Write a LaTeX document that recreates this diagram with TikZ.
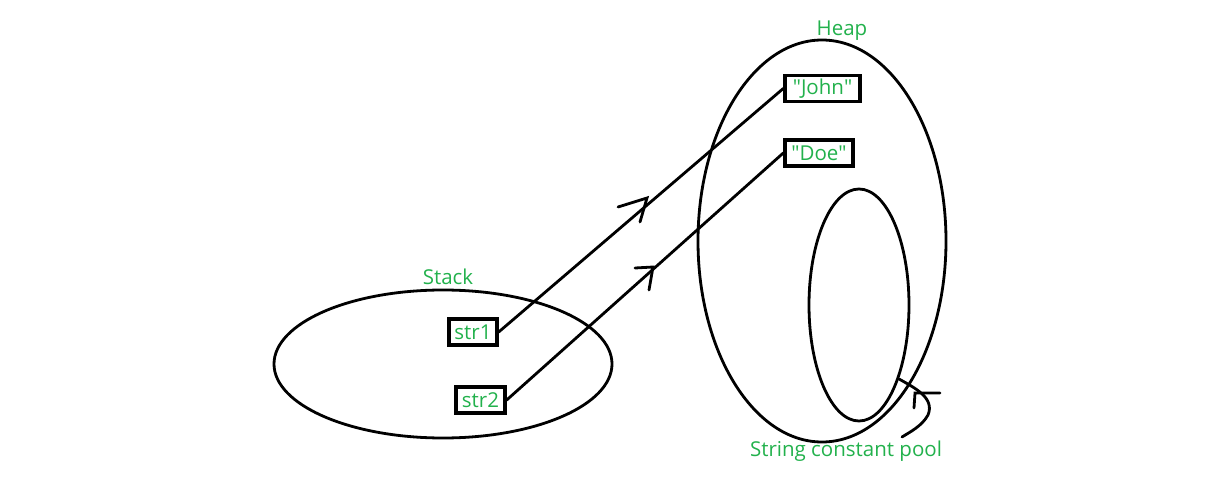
\documentclass[tikz,border=0pt]{standalone}
\usepackage{fontspec}
\setmainfont{Open Sans}
\definecolor{pgreen}{HTML}{22B14C}
\begin{document}
\begin{tikzpicture}[x=1pt,y=-1pt,
  shape line/.style={line width=2.8pt},
  lbl/.style={text=pgreen,font=\fontsize{20.5}{24}\selectfont,inner sep=0pt},
  vbox/.style={draw,line width=3.4pt,text=pgreen,font=\fontsize{20.5}{24}\selectfont,inner sep=0.5pt,minimum height=26pt},
  midarrow/.style={line width=2.8pt,line cap=round}]
\useasboundingbox (0,0) rectangle (1218,489);
% ellipses
\draw[shape line] (443,364) ellipse [x radius=169, y radius=74];
\draw[shape line] (822,241) ellipse [x radius=124, y radius=201];
\draw[shape line] (859,305) ellipse [x radius=50, y radius=116];
% labels
\node[lbl] (heap) at (842,31) {Heap};
\node[lbl] (stack) at (448,277) {Stack};
\node[lbl] (pool) at (846,451) {String constant pool};
% boxes
\node[vbox,minimum width=48pt] (s1) at (473,332) {str1};
\node[vbox,minimum width=49pt] (s2) at (480.5,400) {str2};
\node[vbox,minimum width=75pt] (john) at (822.5,88.5) {\textquotedbl John\textquotedbl};
\node[vbox,minimum width=68pt] (doe) at (819,153) {\textquotedbl Doe\textquotedbl};
% connectors
\draw[midarrow] (s1.east) -- (john.west);
\draw[midarrow] (s2.east) -- (doe.west);
\coordinate (a1) at (647,198);
\coordinate (a2) at (653,267);
\draw[midarrow] (618,207) -- (a1) -- (640,222);
\draw[midarrow] (635,268) -- (a2) -- (649,290);
% pool pointer
\coordinate (p0) at (899,379);
\coordinate (p1) at (902,437);
\draw[midarrow] (p0) .. controls (915,388) and (935,398) .. (928,415) .. controls (922,426) and (910,432) .. (p1);
\coordinate (ph) at (915,393);
\draw[midarrow] (940,393) -- (ph) -- (914,408);
\end{tikzpicture}
\end{document}
